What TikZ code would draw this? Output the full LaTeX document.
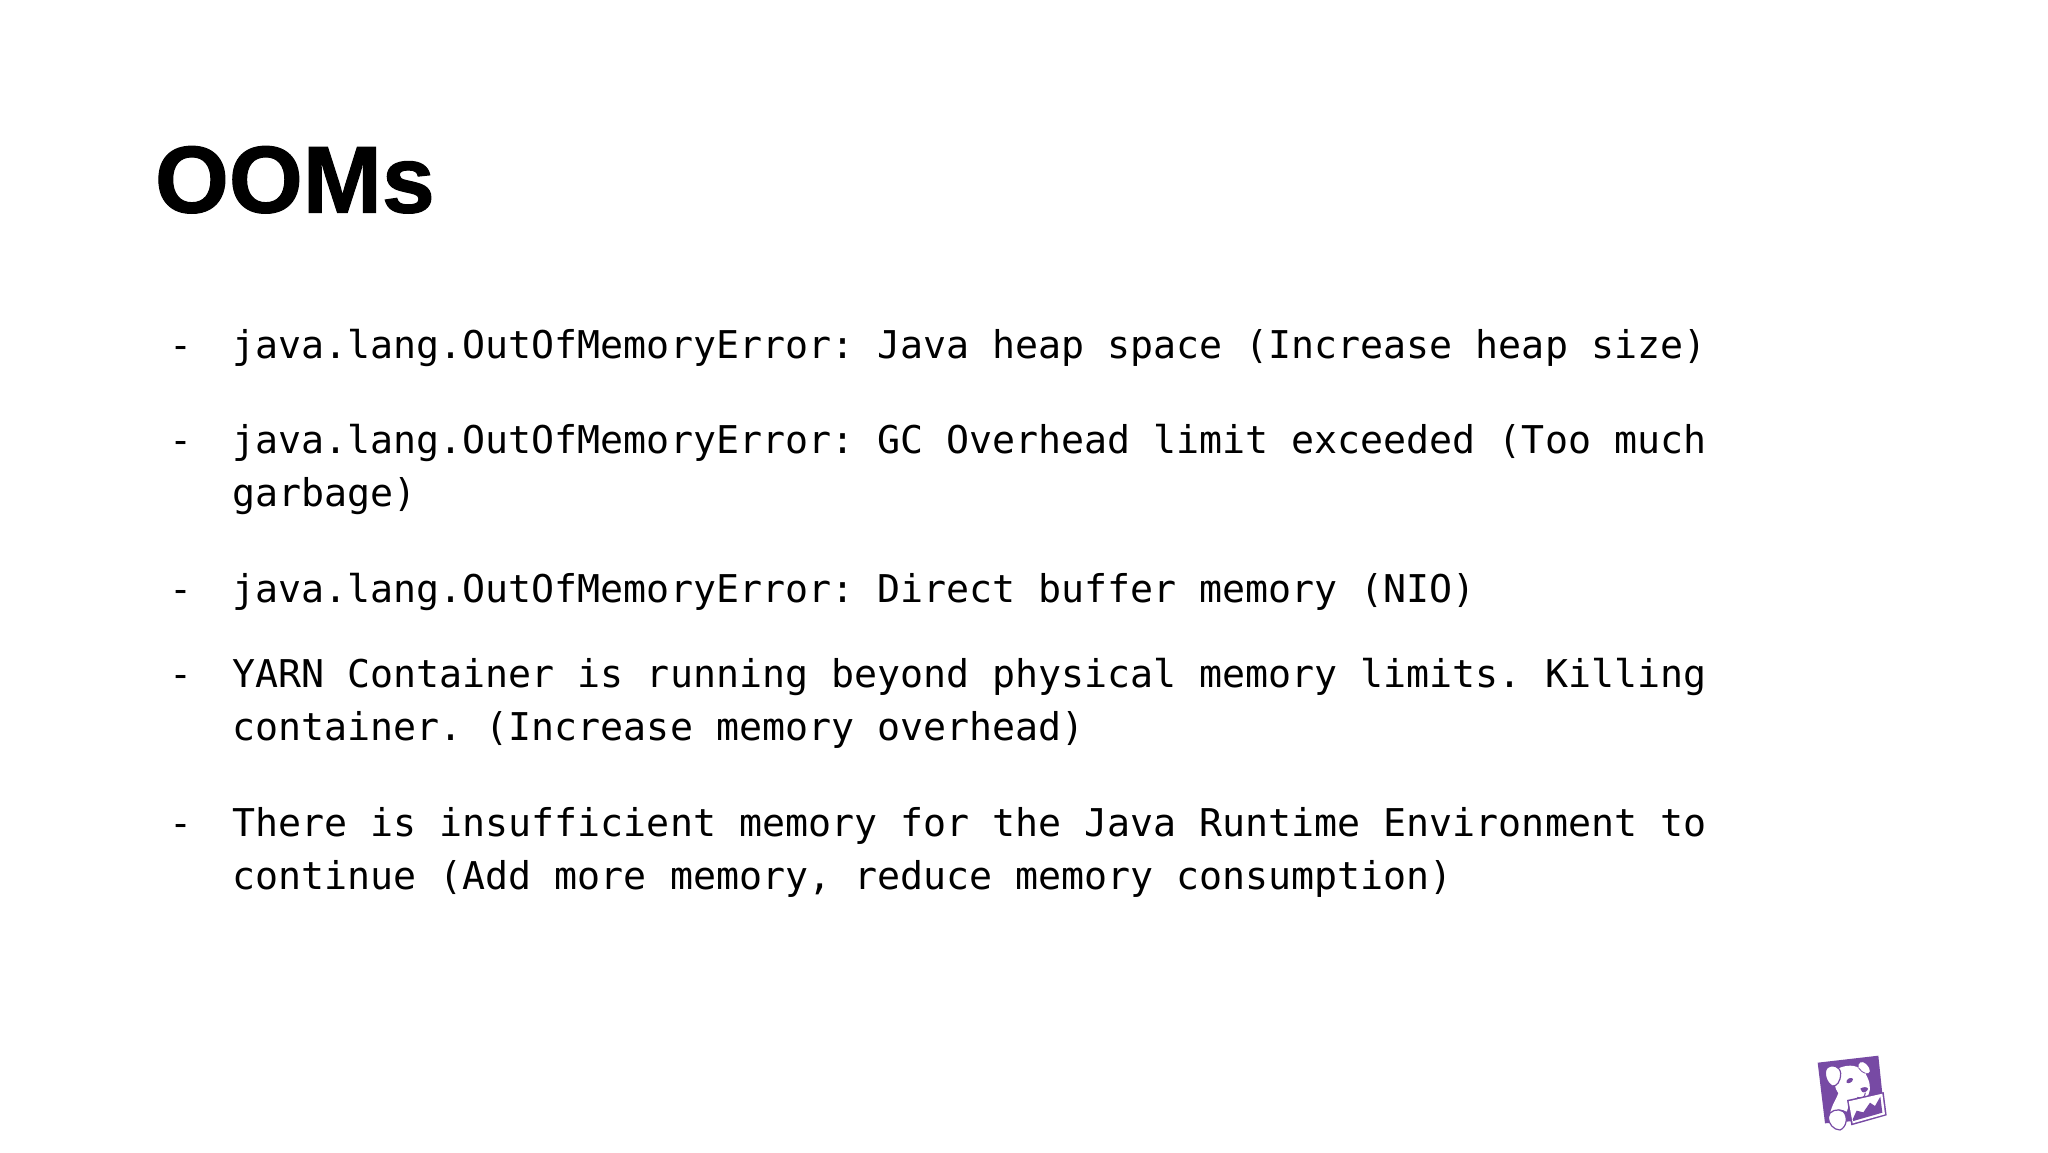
\documentclass[tikz,border=0pt]{standalone}
\usepackage{fontspec}
\setmainfont{DejaVu Sans Mono}
\newfontfamily\titlefont[FakeBold=1.2]{Liberation Sans Bold}
\definecolor{dogpurple}{HTML}{774AA4}
\tikzset{
  bodyline/.style={anchor=base west,inner sep=0pt,outer sep=0pt,text=black,font=\fontsize{38.25}{46}\selectfont},
  titletext/.style={anchor=base west,inner sep=0pt,outer sep=0pt,text=black,font=\titlefont\fontsize{95}{100}\selectfont}
}
\begin{document}
\frenchspacing
\begin{tikzpicture}[x=1pt,y=-1pt]
\useasboundingbox (0,0) rectangle (2048,1152);
\fill[white] (0,0) rectangle (2048,1152);
\node[titletext] (title) at (155,212.5) {OOMs};
\foreach \nm/\yy in {a/358,b/453,c/602,d/687,e/836}{
  \node[bodyline] (dash\nm) at (169,\yy) {-};
}
\node[bodyline] (a1) at (232.5,358) {java.lang.OutOfMemoryError: Java heap space (Increase heap size)};
\node[bodyline] (b1) at (232.5,453.5) {java.lang.OutOfMemoryError: GC Overhead limit exceeded (Too much};
\node[bodyline] (b2) at (232.5,506.5) {garbage)};
\node[bodyline] (c1) at (232.5,602) {java.lang.OutOfMemoryError: Direct buffer memory (NIO)};
\node[bodyline] (d1) at (232.5,687) {YARN Container is running beyond physical memory limits. Killing};
\node[bodyline] (d2) at (232.5,740) {container. (Increase memory overhead)};
\node[bodyline] (e1) at (232.5,836) {There is insufficient memory for the Java Runtime Environment to};
\node[bodyline] (e2) at (232.5,889) {continue (Add more memory, reduce memory consumption)};
% logo
\begin{scope}[shift={(1800,1040)},x=0.3333pt,y=-0.3333pt]
\fill[dogpurple] (53,68) -- (235,47) -- (250,190) -- (200,240) -- (75,250) -- cycle;
% head
\fill[white] (105,92) .. controls (125,76) and (160,72) .. (176,84)
  .. controls (172,68) and (186,60) .. (198,72)
  .. controls (215,90) and (212,102) .. (196,100)
  .. controls (210,125) and (214,145) .. (205,165)
  .. controls (190,180) and (165,178) .. (150,180)
  .. controls (145,190) and (145,205) .. (140,215)
  .. controls (125,205) and (105,205) .. (90,222)
  .. controls (95,195) and (110,175) .. (115,160)
  .. controls (105,145) and (98,125) .. (105,92) -- cycle;
\draw[dogpurple,line width=0.8pt] (176,84) .. controls (182,92) and (188,98) .. (196,100);
% ear
\fill[white,draw=dogpurple,line width=1.2pt] (80,85) .. controls (95,70) and (120,78) .. (122,100)
  .. controls (122,125) and (110,140) .. (97,138)
  .. controls (80,130) and (70,100) .. (80,85) -- cycle;
% eye and nose
\fill[dogpurple] (140,122) .. controls (145,112) and (158,112) .. (159,118) .. controls (158,127) and (145,132) .. (140,128) -- cycle;
\fill[dogpurple] (181,146) .. controls (188,140) and (203,140) .. (204,146) .. controls (203,155) and (190,160) .. (186,155) -- cycle;
\draw[dogpurple,line width=1pt] (172,172) .. controls (185,178) and (195,172) .. (196,158);
% paw
\fill[white,draw=dogpurple,line width=1.2pt] (85,232) .. controls (85,212) and (115,203) .. (130,215)
  .. controls (145,230) and (140,262) .. (120,270)
  .. controls (100,270) and (85,250) .. (85,232) -- cycle;
% chart panel
\fill[dogpurple] (141,180) -- (251,156) -- (260,226) -- (154,256) -- cycle;
\fill[white] (146,184) -- (247,161) -- (255,223) -- (158,250) -- cycle;
\fill[dogpurple] (158,238) -- (170,212) -- (190,217) -- (210,188) -- (225,198) -- (241,170) -- (247,218) -- (160,243) -- cycle;
\end{scope}
\end{tikzpicture}
\end{document}
